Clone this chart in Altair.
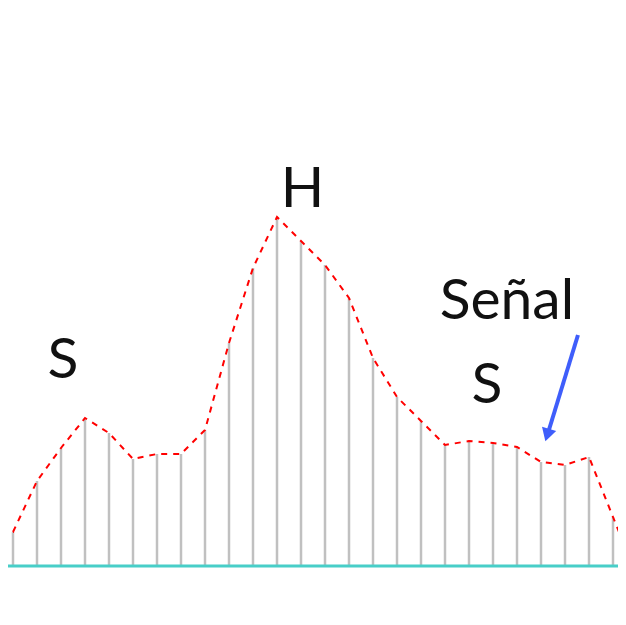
import altair as alt
import pandas as pd

# sample index of each stem and its height (pixels above the baseline)
stem_index = list(range(26))
stem_values = [34, 85, 118, 148, 133, 107, 112, 112, 136, 223, 298, 349, 325,
               301, 268, 208, 169, 145, 121, 125, 123, 119, 104, 101, 109, 49]

# dotted signal envelope (extends one sample beyond each end)
line_index = [-1] + stem_index + [26]
line_values = [33] + stem_values + [-11]

# labels
label_text = ["S", "H", "Señal", "S"]
label_x = [2.08, 12.06, 20.58, 19.75]
label_y = [188, 359, 247, 163]

# arrow (start -> end)
arrow_x = [23.54, 22.33]
arrow_y = [231, 136]
arrow_head_x = [22.26]
arrow_head_y = [131]

W, H = 610, 609
xs = alt.Scale(domain=[-0.20833, 25.20833], nice=False, zero=False)
ys = alt.Scale(domain=[-51, 558], nice=False, zero=False)

stems = pd.DataFrame({"k": stem_index, "v": stem_values, "v0": [0] * len(stem_index)})
line = pd.DataFrame({"k": line_index, "v": line_values})
labels = pd.DataFrame({"t": label_text, "k": label_x, "v": label_y})
base = pd.DataFrame({"k": [-1], "k2": [27], "v": [0]})
arrow = pd.DataFrame({"k": [arrow_x[0]], "k2": [arrow_x[1]], "v": [arrow_y[0]], "v2": [arrow_y[1]]})
head = pd.DataFrame({"k": arrow_head_x, "v": arrow_head_y})

stem_layer = alt.Chart(stems).mark_rule(color="#C0C0C0", strokeWidth=2.5).encode(
    x=alt.X("k:Q", scale=xs, axis=None),
    y=alt.Y("v0:Q", scale=ys, axis=None),
    y2="v:Q",
)

base_layer = alt.Chart(base).mark_rule(color="#48CEC8", strokeWidth=3, clip=True).encode(
    x=alt.X("k:Q", scale=xs, axis=None),
    x2="k2:Q",
    y=alt.Y("v:Q", scale=ys, axis=None),
)

line_layer = alt.Chart(line).mark_line(
    color="#FF0000", strokeWidth=2, strokeDash=[6, 6], clip=True
).encode(
    x=alt.X("k:Q", scale=xs, axis=None),
    y=alt.Y("v:Q", scale=ys, axis=None),
)

text_layer = alt.Chart(labels).mark_text(
    font="Lato", fontSize=57, color="#111111", align="center", baseline="alphabetic"
).encode(
    x=alt.X("k:Q", scale=xs, axis=None),
    y=alt.Y("v:Q", scale=ys, axis=None),
    text="t:N",
)

arrow_layer = alt.Chart(arrow).mark_rule(color="#3F5EFB", strokeWidth=4).encode(
    x=alt.X("k:Q", scale=xs, axis=None),
    x2="k2:Q",
    y=alt.Y("v:Q", scale=ys, axis=None),
    y2="v2:Q",
)

head_layer = alt.Chart(head).mark_point(
    shape="triangle-down", filled=True, color="#3F5EFB", size=220, angle=17, opacity=1
).encode(
    x=alt.X("k:Q", scale=xs, axis=None),
    y=alt.Y("v:Q", scale=ys, axis=None),
)

chart = alt.layer(
    stem_layer, base_layer, line_layer, text_layer, arrow_layer, head_layer
).properties(
    width=W, height=H, padding=0,
    autosize=alt.AutoSizeParams(type="none"),
).configure_view(strokeWidth=0)

chart.save("out.html", embed_options={"renderer": "svg", "actions": False})
